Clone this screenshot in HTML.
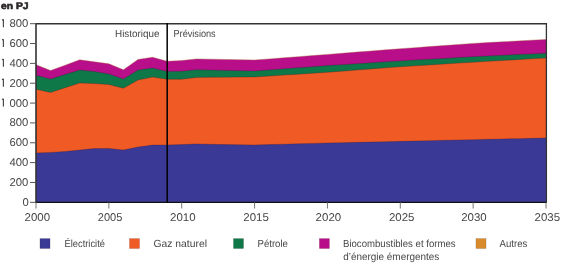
<!DOCTYPE html>
<html><head><meta charset="utf-8"><style>
html,body{margin:0;padding:0;background:#fff;width:580px;height:265px;overflow:hidden}
svg{display:block;will-change:transform}
text{font-family:"Liberation Sans",sans-serif;text-rendering:geometricPrecision}
</style></head><body>
<svg width="580" height="265" viewBox="0 0 580 265">
<path d="M36,64.7 L50.57,70.5 L65.14,65.2 L79.71,59.8 L94.29,61.8 L108.86,63.8 L123.43,69.8 L138,59.4 L152.57,57.2 L167.14,61.3 L181.71,60.6 L196.29,58.9 L210.86,59.17 L225.43,59.45 L240,59.73 L254.57,60 L269.14,58.88 L283.71,57.76 L298.29,56.64 L312.86,55.52 L327.43,54.4 L342,53.26 L356.57,52.12 L371.14,50.98 L385.71,49.84 L400.29,48.7 L414.86,47.64 L429.43,46.58 L444,45.52 L458.57,44.46 L473.14,43.4 L487.71,42.6 L502.29,41.8 L516.86,41 L531.43,40.2 L546,39.4 L546,202.3 L36,202.3Z" fill="#b80e8a"/>
<path d="M36,75.2 L50.57,79 L65.14,74.5 L79.71,70 L94.29,71.6 L108.86,73.9 L123.43,79 L138,70 L152.57,68.1 L167.14,71.4 L181.71,71.2 L196.29,69.8 L210.86,70.1 L225.43,70.4 L240,70.7 L254.57,71 L269.14,69.92 L283.71,68.84 L298.29,67.76 L312.86,66.68 L327.43,65.6 L342,64.66 L356.57,63.72 L371.14,62.78 L385.71,61.84 L400.29,60.9 L414.86,60.06 L429.43,59.22 L444,58.38 L458.57,57.54 L473.14,56.7 L487.71,56 L502.29,55.3 L516.86,54.6 L531.43,53.9 L546,53.2 L546,202.3 L36,202.3Z" fill="#0e7849"/>
<path d="M36,89.2 L50.57,92.5 L65.14,87.7 L79.71,83 L94.29,83.6 L108.86,84.6 L123.43,88.2 L138,80 L152.57,77.1 L167.14,79.3 L181.71,79.3 L196.29,77.4 L210.86,77.3 L225.43,77.2 L240,77.1 L254.57,77 L269.14,76.06 L283.71,75.12 L298.29,74.18 L312.86,73.24 L327.43,72.3 L342,71.18 L356.57,70.06 L371.14,68.94 L385.71,67.82 L400.29,66.7 L414.86,65.8 L429.43,64.9 L444,64 L458.57,63.1 L473.14,62.2 L487.71,61.36 L502.29,60.52 L516.86,59.68 L531.43,58.84 L546,58 L546,202.3 L36,202.3Z" fill="#f05a24"/>
<path d="M36,153 L50.57,152.4 L65.14,151.5 L79.71,150 L94.29,148.6 L108.86,148.4 L123.43,150 L138,147 L152.57,145.1 L167.14,145 L181.71,144.6 L196.29,143.9 L210.86,144.3 L225.43,144.6 L240,144.8 L254.57,145 L269.14,144.6 L283.71,144.2 L298.29,143.8 L312.86,143.4 L327.43,143 L342,142.67 L356.57,142.33 L371.14,142 L385.71,141.67 L400.29,141.33 L414.86,141 L429.43,140.67 L444,140.33 L458.57,140 L473.14,139.67 L487.71,139.33 L502.29,139 L516.86,138.67 L531.43,138.33 L546,138 L546,202.3 L36,202.3Z" fill="#3a3a96"/>
<path d="M36,64.7 L50.57,70.5 L65.14,65.2 L79.71,59.8 L94.29,61.8 L108.86,63.8 L123.43,69.8 L138,59.4 L152.57,57.2 L167.14,61.3 L181.71,60.6 L196.29,58.9 L210.86,59.17 L225.43,59.45 L240,59.73 L254.57,60 L269.14,58.88 L283.71,57.76 L298.29,56.64 L312.86,55.52 L327.43,54.4 L342,53.26 L356.57,52.12 L371.14,50.98 L385.71,49.84 L400.29,48.7 L414.86,47.64 L429.43,46.58 L444,45.52 L458.57,44.46 L473.14,43.4 L487.71,42.6 L502.29,41.8 L516.86,41 L531.43,40.2 L546,39.4" fill="none" stroke="#a86038" stroke-width="0.7" opacity="0.55"/>
<path d="M36,75.2 L50.57,79 L65.14,74.5 L79.71,70 L94.29,71.6 L108.86,73.9 L123.43,79 L138,70 L152.57,68.1 L167.14,71.4 L181.71,71.2 L196.29,69.8 L210.86,70.1 L225.43,70.4 L240,70.7 L254.57,71 L269.14,69.92 L283.71,68.84 L298.29,67.76 L312.86,66.68 L327.43,65.6 L342,64.66 L356.57,63.72 L371.14,62.78 L385.71,61.84 L400.29,60.9 L414.86,60.06 L429.43,59.22 L444,58.38 L458.57,57.54 L473.14,56.7 L487.71,56 L502.29,55.3 L516.86,54.6 L531.43,53.9 L546,53.2" fill="none" stroke="#301828" stroke-width="0.6" opacity="0.45"/>
<path d="M36,89.2 L50.57,92.5 L65.14,87.7 L79.71,83 L94.29,83.6 L108.86,84.6 L123.43,88.2 L138,80 L152.57,77.1 L167.14,79.3 L181.71,79.3 L196.29,77.4 L210.86,77.3 L225.43,77.2 L240,77.1 L254.57,77 L269.14,76.06 L283.71,75.12 L298.29,74.18 L312.86,73.24 L327.43,72.3 L342,71.18 L356.57,70.06 L371.14,68.94 L385.71,67.82 L400.29,66.7 L414.86,65.8 L429.43,64.9 L444,64 L458.57,63.1 L473.14,62.2 L487.71,61.36 L502.29,60.52 L516.86,59.68 L531.43,58.84 L546,58" fill="none" stroke="#301828" stroke-width="0.6" opacity="0.45"/>
<path d="M36,153 L50.57,152.4 L65.14,151.5 L79.71,150 L94.29,148.6 L108.86,148.4 L123.43,150 L138,147 L152.57,145.1 L167.14,145 L181.71,144.6 L196.29,143.9 L210.86,144.3 L225.43,144.6 L240,144.8 L254.57,145 L269.14,144.6 L283.71,144.2 L298.29,143.8 L312.86,143.4 L327.43,143 L342,142.67 L356.57,142.33 L371.14,142 L385.71,141.67 L400.29,141.33 L414.86,141 L429.43,140.67 L444,140.33 L458.57,140 L473.14,139.67 L487.71,139.33 L502.29,139 L516.86,138.67 L531.43,138.33 L546,138" fill="none" stroke="#301828" stroke-width="0.6" opacity="0.45"/>
<path d="M36.0,23.7 H546.6" fill="none" stroke="#333333" stroke-width="1.6"/>
<path d="M546.4,23 V202.3" fill="none" stroke="#333333" stroke-width="1.3"/>
<path d="M36.0,23 V202.3" fill="none" stroke="#333333" stroke-width="1.6"/>
<path d="M35.2,202.3 H546.8" fill="none" stroke="#111" stroke-width="1.2"/>
<path d="M167.19,23 V202.3" fill="none" stroke="#000" stroke-width="1.5"/>
<path d="M30,202.3 H36.0" stroke="#555" stroke-width="1"/>
<path d="M30,182.46 H36.0" stroke="#555" stroke-width="1"/>
<path d="M30,162.61 H36.0" stroke="#555" stroke-width="1"/>
<path d="M30,142.77 H36.0" stroke="#555" stroke-width="1"/>
<path d="M30,122.92 H36.0" stroke="#555" stroke-width="1"/>
<path d="M30,103.08 H36.0" stroke="#555" stroke-width="1"/>
<path d="M3.4,98.68 V106.53 M2,99.58 L3.4,98.68" fill="none" stroke="#464646" stroke-width="1.15"/>
<path d="M30,83.23 H36.0" stroke="#555" stroke-width="1"/>
<path d="M3.4,78.83 V86.68 M2,79.73 L3.4,78.83" fill="none" stroke="#464646" stroke-width="1.15"/>
<path d="M30,63.39 H36.0" stroke="#555" stroke-width="1"/>
<path d="M3.4,58.99 V66.84 M2,59.89 L3.4,58.99" fill="none" stroke="#464646" stroke-width="1.15"/>
<path d="M30,43.54 H36.0" stroke="#555" stroke-width="1"/>
<path d="M3.4,39.14 V46.99 M2,40.04 L3.4,39.14" fill="none" stroke="#464646" stroke-width="1.15"/>
<path d="M30,23.7 H36.0" stroke="#555" stroke-width="1"/>
<path d="M3.4,19.3 V27.15 M2,20.2 L3.4,19.3" fill="none" stroke="#464646" stroke-width="1.15"/>
<path d="M36,202.3 V208.5" stroke="#666" stroke-width="0.9"/>
<path d="M108.86,202.3 V208.5" stroke="#666" stroke-width="0.9"/>
<path d="M181.71,202.3 V208.5" stroke="#666" stroke-width="0.9"/>
<path d="M254.57,202.3 V208.5" stroke="#666" stroke-width="0.9"/>
<path d="M327.43,202.3 V208.5" stroke="#666" stroke-width="0.9"/>
<path d="M400.29,202.3 V208.5" stroke="#666" stroke-width="0.9"/>
<path d="M473.14,202.3 V208.5" stroke="#666" stroke-width="0.9"/>
<path d="M546,202.3 V208.5" stroke="#666" stroke-width="0.9"/>
<rect x="39.95" y="238.55" width="10.1" height="10" fill="#3a3a96" stroke="#3a2020" stroke-opacity="0.3" stroke-width="0.5"/>
<rect x="129.45" y="238.55" width="10.1" height="10" fill="#f05a24" stroke="#3a2020" stroke-opacity="0.3" stroke-width="0.5"/>
<rect x="233.45" y="238.55" width="10.1" height="10" fill="#0e7849" stroke="#3a2020" stroke-opacity="0.3" stroke-width="0.5"/>
<rect x="319.35" y="238.55" width="10.1" height="10" fill="#b80e8a" stroke="#3a2020" stroke-opacity="0.3" stroke-width="0.5"/>
<rect x="475.95" y="238.55" width="10.1" height="10" fill="#d98a2b" stroke="#3a2020" stroke-opacity="0.3" stroke-width="0.5"/>
<text x="1" y="9.2" textLength="27.56" lengthAdjust="spacingAndGlyphs" style="font-size:9.5px;font-weight:bold;fill:#2a2628;stroke:#2a2628;stroke-width:0.6px">en PJ</text>
<text x="22.5" y="205.8" textLength="6.3" lengthAdjust="spacingAndGlyphs" style="font-size:11.3px;font-weight:normal;fill:#464646">0</text>
<text x="9.5" y="185.96" textLength="18.86" lengthAdjust="spacingAndGlyphs" style="font-size:11.3px;font-weight:normal;fill:#464646">200</text>
<text x="9.5" y="166.11" textLength="18.86" lengthAdjust="spacingAndGlyphs" style="font-size:11.3px;font-weight:normal;fill:#464646">400</text>
<text x="9.5" y="146.27" textLength="18.86" lengthAdjust="spacingAndGlyphs" style="font-size:11.3px;font-weight:normal;fill:#464646">600</text>
<text x="9.5" y="126.42" textLength="18.86" lengthAdjust="spacingAndGlyphs" style="font-size:11.3px;font-weight:normal;fill:#464646">800</text>
<text x="9.5" y="106.58" textLength="18.86" lengthAdjust="spacingAndGlyphs" style="font-size:11.3px;font-weight:normal;fill:#464646">000</text>
<text x="9.5" y="86.73" textLength="18.86" lengthAdjust="spacingAndGlyphs" style="font-size:11.3px;font-weight:normal;fill:#464646">200</text>
<text x="9.5" y="66.89" textLength="18.86" lengthAdjust="spacingAndGlyphs" style="font-size:11.3px;font-weight:normal;fill:#464646">400</text>
<text x="9.5" y="47.04" textLength="18.86" lengthAdjust="spacingAndGlyphs" style="font-size:11.3px;font-weight:normal;fill:#464646">600</text>
<text x="9.5" y="27.2" textLength="18.86" lengthAdjust="spacingAndGlyphs" style="font-size:11.3px;font-weight:normal;fill:#464646">800</text>
<text x="24.5" y="221" textLength="25.54" lengthAdjust="spacingAndGlyphs" style="font-size:11.3px;font-weight:normal;fill:#464646">2000</text>
<text x="97.79" y="221" textLength="24.54" lengthAdjust="spacingAndGlyphs" style="font-size:11.3px;font-weight:normal;fill:#464646">2005</text>
<text x="170.07" y="221" textLength="25.54" lengthAdjust="spacingAndGlyphs" style="font-size:11.3px;font-weight:normal;fill:#464646">2010</text>
<text x="243.36" y="221" textLength="25.54" lengthAdjust="spacingAndGlyphs" style="font-size:11.3px;font-weight:normal;fill:#464646">2015</text>
<text x="315.64" y="221" textLength="25.54" lengthAdjust="spacingAndGlyphs" style="font-size:11.3px;font-weight:normal;fill:#464646">2020</text>
<text x="388.93" y="221" textLength="25.54" lengthAdjust="spacingAndGlyphs" style="font-size:11.3px;font-weight:normal;fill:#464646">2025</text>
<text x="461.21" y="221" textLength="25.54" lengthAdjust="spacingAndGlyphs" style="font-size:11.3px;font-weight:normal;fill:#464646">2030</text>
<text x="534.5" y="221" textLength="25.54" lengthAdjust="spacingAndGlyphs" style="font-size:11.3px;font-weight:normal;fill:#464646">2035</text>
<text x="115" y="37.2" textLength="44.48" lengthAdjust="spacingAndGlyphs" style="font-size:10.2px;font-weight:normal;fill:#464646">Historique</text>
<text x="173.5" y="37.2" textLength="42.2" lengthAdjust="spacingAndGlyphs" style="font-size:10.2px;font-weight:normal;fill:#464646">Prévisions</text>
<text x="64.5" y="246.6" textLength="40.44" lengthAdjust="spacingAndGlyphs" style="font-size:10.3px;font-weight:normal;fill:#464646">Électricité</text>
<text x="153.5" y="246.6" textLength="53.43" lengthAdjust="spacingAndGlyphs" style="font-size:10.3px;font-weight:normal;fill:#464646">Gaz naturel</text>
<text x="257.5" y="246.7" textLength="30.44" lengthAdjust="spacingAndGlyphs" style="font-size:10.3px;font-weight:normal;fill:#464646">Pétrole</text>
<text x="343" y="246.6" textLength="112.57" lengthAdjust="spacingAndGlyphs" style="font-size:10.3px;font-weight:normal;fill:#464646">Biocombustibles et formes</text>
<text x="343.25" y="260.1" textLength="96.01" lengthAdjust="spacingAndGlyphs" style="font-size:10.3px;font-weight:normal;fill:#464646">d’énergie émergentes</text>
<text x="499.5" y="246.7" textLength="27.81" lengthAdjust="spacingAndGlyphs" style="font-size:10.3px;font-weight:normal;fill:#464646">Autres</text>
</svg>
</body></html>
